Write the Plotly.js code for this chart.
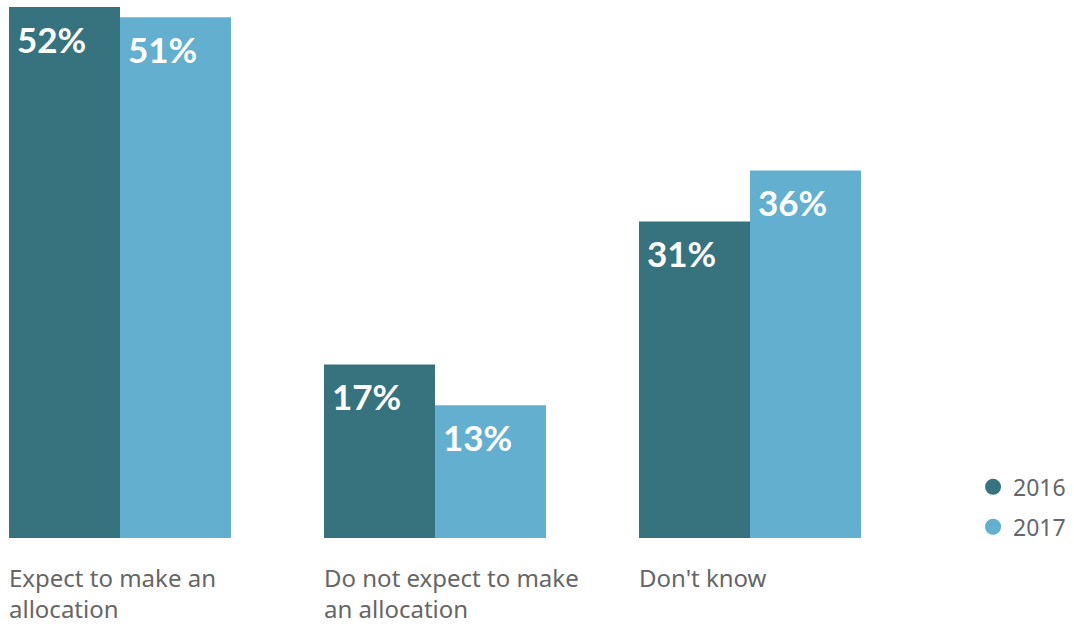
<!DOCTYPE html>
<html><head><meta charset="utf-8">
<script src="https://cdn.plot.ly/plotly-3.0.1.min.js"></script>
<style>html,body{margin:0;padding:0;background:#fff}</style>
</head><body>
<div id="chart" style="width:1074px;height:626px"></div>
<script>
const categories = ["Expect to make an<br>allocation", "Do not expect to make<br>an allocation", "Don't know"];
const years = ["2016", "2017"];
const values2016 = [52, 17, 31];
const values2017 = [51, 13, 36];
const colors = ["#36737E", "#63AFD0"];

const xs = categories.map((c, i) => i);
const barW = 111 / 315;
const series = [values2016, values2017];

const traces = series.map((vals, k) => ({
  type: "bar", x: xs, y: vals, width: barW, offset: -barW + k * barW,
  marker: {color: colors[k]}, showlegend: false, hoverinfo: "skip"
}));
series.forEach((vals, k) => traces.push({
  type: "scatter", mode: "markers", x: [null], y: [null], name: years[k],
  legendgroup: years[k],
  marker: {color: colors[k], size: 19, symbol: "circle"}
}));

const annotations = [];
series.forEach((vals, k) => vals.forEach((v, i) => annotations.push({
  x: i - barW + k * barW, y: v, xref: "x", yref: "y",
  text: "<b>" + v + "%</b>", showarrow: false, xanchor: "left", yanchor: "top",
  xshift: 6, yshift: -9,
  font: {family: "Lato, 'Open Sans', sans-serif", size: 35, color: "#ffffff"}
})));
categories.forEach((c, i) => annotations.push({
  x: i - barW, y: 0, xref: "x", yref: "y", text: c, showarrow: false,
  xanchor: "left", yanchor: "top", align: "left", xshift: -2, yshift: -21,
  font: {family: "'Noto Sans', sans-serif", size: 24, color: "#666666"}
}));

const layout = {
  width: 1074, height: 626,
  margin: {l: 0, r: 0, t: 0, b: 88, pad: 0},
  paper_bgcolor: "#ffffff", plot_bgcolor: "#ffffff",
  xaxis: {range: [-120 / 315, -120 / 315 + 1074 / 315], showgrid: false, zeroline: false,
          showticklabels: false, showline: false, fixedrange: true},
  yaxis: {range: [0, 538 / 10.21], showgrid: false, zeroline: false,
          showticklabels: false, showline: false, fixedrange: true},
  showlegend: true,
  legend: {x: 0.906, y: 0.135, xanchor: "left", yanchor: "top", traceorder: "grouped",
           tracegroupgap: 7, itemwidth: 30,
           font: {family: "'Noto Sans', sans-serif", size: 23, color: "#666666"},
           bgcolor: "rgba(0,0,0,0)"},
  annotations: annotations
};
Plotly.newPlot("chart", traces, layout, {displayModeBar: false, staticPlot: true});
</script>
</body></html>
